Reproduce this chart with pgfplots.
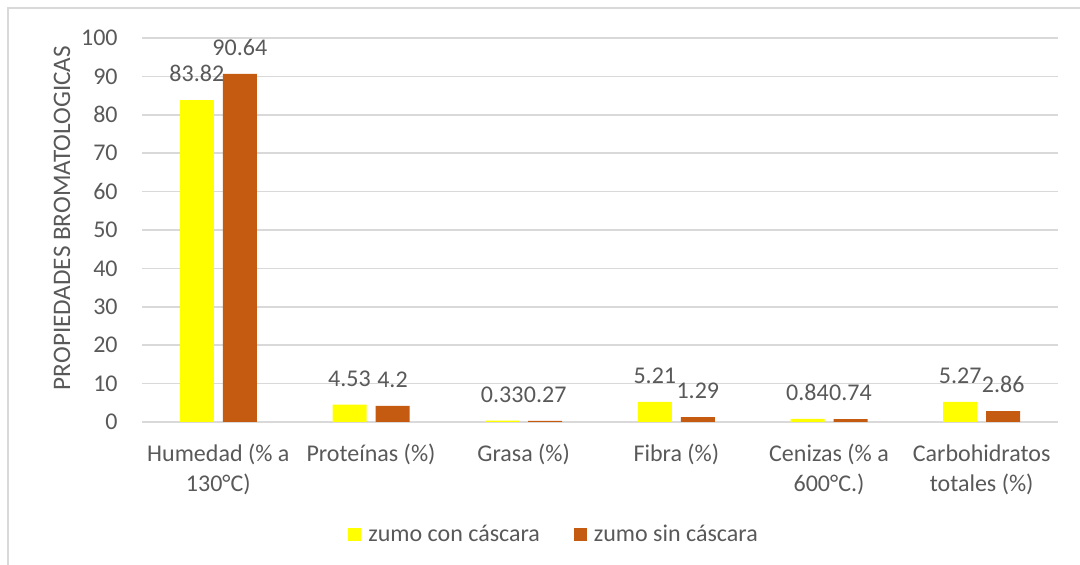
\documentclass[border=0pt]{standalone}
\usepackage{fontspec}
\setmainfont{Carlito}
\usepackage{pgfplots}
\pgfplotsset{compat=1.18}
\definecolor{txt}{HTML}{595959}
\definecolor{gridc}{HTML}{D9D9D9}
\definecolor{yel}{HTML}{FFFF00}
\definecolor{ora}{HTML}{C55A11}
\newcommand{\fnt}{\fontsize{12}{15}\selectfont}
\begin{document}
\begin{tikzpicture}[x=1pt,y=1pt]
\useasboundingbox (0,0) rectangle (540,282.5);
\draw[gridc, line width=0.75pt] (4,0) -- (4,278.5) -- (540,278.5);
\begin{axis}[
  at={(71pt,71.5pt)}, anchor=south west,
  scale only axis, width=458pt, height=192pt,
  xmin=-0.5, xmax=5.5, ymin=0, ymax=100,
  ytick={0,10,...,100},
  xtick={0,...,5},
  xticklabels={{Humedad (\% a\\130°C)}, {Proteínas (\%)}, {Grasa (\%)}, {Fibra (\%)}, {Cenizas (\% a\\600°C.)}, {Carbohidratos\\totales (\%)}},
  axis line style={draw=none},
  major tick length=0pt,
  ymajorgrids, grid style={gridc, line width=0.75pt},
  tick label style={font=\fnt, text=txt},
  yticklabel style={anchor=east, inner sep=0pt, xshift=-12pt},
  xticklabel style={anchor=north, inner sep=0pt, yshift=-11pt, align=center},
  /pgf/number format/assume math mode=true,
  ylabel={PROPIEDADES BROMATOLOGICAS},
  every axis y label/.style={at={(axis description cs:0,0.5)}, rotate=90, anchor=center, yshift=40pt, xshift=6pt, font=\fontsize{12.6}{15}\selectfont, text=txt},
  point meta=explicit symbolic,
  every node near coord/.append style={font=\fnt, text=txt, anchor=south, inner sep=0pt, yshift=9pt},
  legend style={at={(rel axis cs:0.2184,-0.294)}, anchor=west, draw=none, fill=none,
    legend columns=2, font=\fnt, text=txt, nodes={inner sep=0pt},
    /tikz/every odd column/.append style={column sep=3.5pt},
    /tikz/every even column/.append style={column sep=17pt}},
]
\addplot[ybar, fill=yel, draw=none, bar width=17pt, bar shift=-10.75pt, nodes near coords,
  every node near coord/.append style={xshift=-10.75pt},
  legend image code/.code={\fill[yel] (0pt,-3.25pt) rectangle (6.5pt,3.25pt);}]
  coordinates {(0,83.82)[83.82] (1,4.53)[4.53] (2,0.33)[0.33] (3,5.21)[5.21] (4,0.84)[0.84] (5,5.27)[5.27]};
\addlegendentry{zumo con cáscara}
\addplot[ybar, fill=ora, draw=none, bar width=17pt, bar shift=10.75pt, nodes near coords,
  every node near coord/.append style={xshift=10.75pt},
  legend image code/.code={\fill[ora] (0pt,-3.25pt) rectangle (6.5pt,3.25pt);}]
  coordinates {(0,90.64)[90.64] (1,4.2)[4.2] (2,0.27)[0.27] (3,1.29)[1.29] (4,0.74)[0.74] (5,2.86)[2.86]};
\addlegendentry{zumo sin cáscara}
\end{axis}
\end{tikzpicture}
\end{document}
